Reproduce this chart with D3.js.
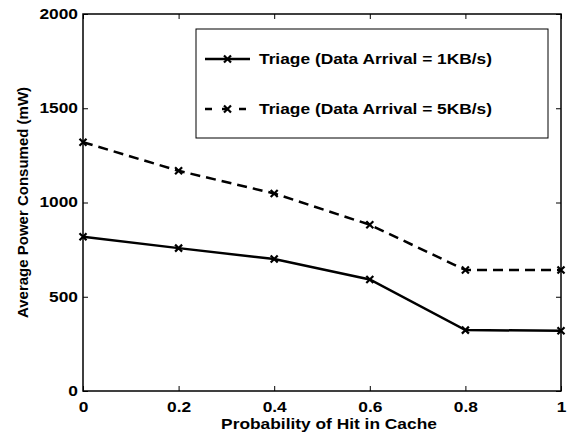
<!DOCTYPE html>
<html>
<head>
<meta charset="utf-8">
<script src="https://cdn.jsdelivr.net/npm/d3@7"></script>
<style>
  body { margin: 0; background: #fff; }
  text { font-family: "Liberation Sans", Arial, sans-serif; font-weight: bold; }
</style>
</head>
<body>
<div id="chartHolder"></div>
<script>
const hitProb = [0, 0.2, 0.4, 0.6, 0.8, 1];
const power1KB = [818, 758, 700, 592, 323, 320];
const power5KB = [1320, 1168, 1048, 882, 642, 642];
const xTicks = [0, 0.2, 0.4, 0.6, 0.8, 1];
const yTicks = [0, 500, 1000, 1500, 2000];
const seriesNames = ["Triage (Data Arrival = 1KB/s)", "Triage (Data Arrival = 5KB/s)"];

const width = 573, height = 434;
const margin = {left: 83, top: 14, right: 12, bottom: 43};
const stretch = 1.24; // reference text is wider than normal

const svg = d3.select("#chartHolder").append("svg")
  .attr("width", width).attr("height", height);

const xScale = d3.scaleLinear().domain([0, 1]).range([margin.left, width - margin.right]);
const yScale = d3.scaleLinear().domain([0, 2000]).range([height - margin.bottom, margin.top]);

// widen a text horizontally around its own anchor x
function widen(sel) {
  sel.each(function () {
    const t = d3.select(this);
    const x = +t.attr("x") || 0;
    t.attr("transform", `translate(${x},0) scale(${stretch},1) translate(${-x},0)`);
  });
}

const axisStyle = g => {
  g.select(".domain").remove();
  g.selectAll("line").attr("stroke", "#000").attr("stroke-width", 1);
  g.selectAll("text").attr("fill", "#000").style("font-size", "14px").call(widen);
};
const fmtX = d => d === 0 ? "0" : d === 1 ? "1" : d3.format(".1f")(d);

svg.append("g")
  .attr("transform", `translate(0,${yScale(0)})`)
  .call(d3.axisBottom(xScale).tickValues(xTicks).tickFormat(fmtX).tickSizeInner(-5).tickPadding(11))
  .call(axisStyle);
svg.append("g")
  .attr("transform", `translate(0,${yScale(2000)})`)
  .call(d3.axisTop(xScale).tickValues(xTicks).tickFormat("").tickSizeInner(-5))
  .call(axisStyle);
svg.append("g")
  .attr("transform", `translate(${xScale(0)},0)`)
  .call(d3.axisLeft(yScale).tickValues(yTicks).tickFormat(d3.format("d")).tickSizeInner(-5).tickPadding(5))
  .call(axisStyle);
svg.append("g")
  .attr("transform", `translate(${xScale(1)},0)`)
  .call(d3.axisRight(yScale).tickValues(yTicks).tickFormat("").tickSizeInner(-5))
  .call(axisStyle);

// frame
svg.append("rect")
  .attr("x", xScale(0)).attr("y", yScale(2000))
  .attr("width", xScale(1) - xScale(0)).attr("height", yScale(0) - yScale(2000))
  .attr("fill", "none").attr("stroke", "#000").attr("stroke-width", 1.5);

// axis labels
svg.append("text")
  .attr("x", 329).attr("y", 429)
  .attr("text-anchor", "middle").style("font-size", "14px")
  .text("Probability of Hit in Cache")
  .call(widen);
svg.append("text")
  .attr("transform", `translate(28,${(yScale(0) + yScale(2000)) / 2}) rotate(-90)`)
  .attr("text-anchor", "middle").style("font-size", "15px")
  .text("Average Power Consumed (mW)");

const line = d3.line().x((d, i) => xScale(hitProb[i])).y(d => yScale(d));

function drawMarkers(values) {
  const s = 3.5;
  svg.append("g").selectAll("path")
    .data(values).enter().append("path")
    .attr("d", (d, i) => {
      const x = xScale(hitProb[i]), y = yScale(d);
      return `M${x - s},${y - s}L${x + s},${y + s}M${x - s},${y + s}L${x + s},${y - s}`;
    })
    .attr("stroke", "#000").attr("stroke-width", 2.2);
}

svg.append("path").datum(power5KB)
  .attr("d", line).attr("fill", "none").attr("stroke", "#000")
  .attr("stroke-width", 2.5).attr("stroke-dasharray", "10,6");
drawMarkers(power5KB);

svg.append("path").datum(power1KB)
  .attr("d", line).attr("fill", "none").attr("stroke", "#000")
  .attr("stroke-width", 2.5);
drawMarkers(power1KB);

// legend
const legend = svg.append("g");
legend.append("rect")
  .attr("x", 196).attr("y", 29).attr("width", 352).attr("height", 109)
  .attr("fill", "#fff").attr("stroke", "#000").attr("stroke-width", 1);
[0, 1].forEach(k => {
  const ly = k === 0 ? 59 : 109;
  legend.append("line")
    .attr("x1", 205).attr("x2", 250).attr("y1", ly).attr("y2", ly)
    .attr("stroke", "#000").attr("stroke-width", 2.5)
    .attr("stroke-dasharray", k === 0 ? null : "7,10");
  legend.append("path")
    .attr("d", `M224,${ly - 3.5}L231,${ly + 3.5}M224,${ly + 3.5}L231,${ly - 3.5}`)
    .attr("stroke", "#000").attr("stroke-width", 2.2);
  legend.append("text")
    .attr("x", 259).attr("y", ly + 5).style("font-size", "14px")
    .text(seriesNames[k])
    .call(widen);
});
</script>
</body>
</html>
